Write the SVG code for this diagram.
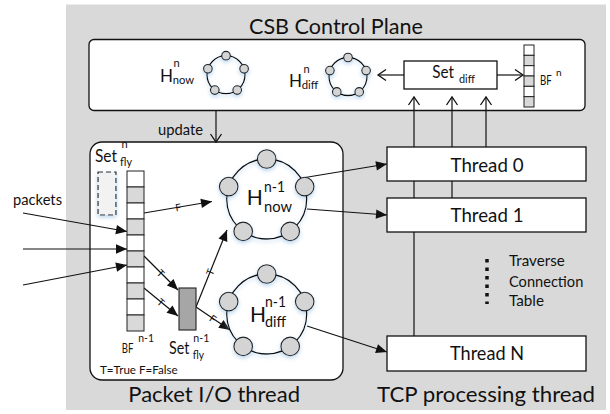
<svg xmlns="http://www.w3.org/2000/svg" width="610" height="414" viewBox="0 0 610 414">
<style>
text{font-family:Lato,"Liberation Sans",sans-serif;fill:#111}
.box{fill:#fff;stroke:#111;stroke-width:1.3}
.ln{fill:none;stroke:#111;stroke-width:1.2}
.ring{fill:none;stroke:#111;stroke-width:1.3}
.dot{fill:#d4d4d4;stroke:#222;stroke-width:1.1}
.cw{fill:#fff;stroke:#222;stroke-width:1}
.cg{fill:#d9d9d9;stroke:#222;stroke-width:1}
.tf{font-size:10px;text-anchor:middle;dominant-baseline:central}
</style>
<defs>
<marker id="open" markerUnits="userSpaceOnUse" viewBox="-10 -7 12 14" markerWidth="12" markerHeight="14" refX="0" refY="0" orient="auto">
<path d="M-8,-5.5 L0,0 L-8,5.5" fill="none" stroke="#111" stroke-width="1.3"/>
</marker>
<marker id="fill" markerUnits="userSpaceOnUse" viewBox="-12 -6 13 12" markerWidth="13" markerHeight="12" refX="0" refY="0" orient="auto">
<path d="M-11,-4.7 L0,0 L-11,4.7 Z" fill="#111"/>
</marker>
<filter id="glow" x="-30%" y="-30%" width="160%" height="170%">
<feGaussianBlur in="SourceAlpha" stdDeviation="2"/>
<feOffset dy="2" result="b"/>
<feFlood flood-color="#9cc3e6" flood-opacity="0.7"/>
<feComposite in2="b" operator="in"/>
<feMerge><feMergeNode/><feMergeNode in="SourceGraphic"/></feMerge>
</filter>
</defs>

<rect id="bg" x="66" y="4.5" width="540" height="405.5" fill="#d9d9d9"/>
<text x="336" y="34" font-size="22" text-anchor="middle" textLength="174" lengthAdjust="spacingAndGlyphs">CSB Control Plane</text>
<text x="128.3" y="401.5" font-size="22" textLength="171.7" lengthAdjust="spacingAndGlyphs">Packet I/O thread</text>
<text x="377" y="402" font-size="22" textLength="218" lengthAdjust="spacingAndGlyphs">TCP processing thread</text>

<g id="control-plane">
<rect class="box" x="89" y="39.5" width="496" height="71" rx="5"/>
</g>
<g id="packet-io">
<rect class="box" x="90" y="142" width="253" height="238" rx="12"/>
<text x="100" y="374.3" font-size="11.5" textLength="77.7" lengthAdjust="spacingAndGlyphs">T=True  F=False</text>
</g>

<g id="connectors">
<line class="ln" x1="216" y1="110.5" x2="216" y2="142" marker-end="url(#open)"/>
<text x="158" y="135" font-size="15" textLength="45" lengthAdjust="spacingAndGlyphs">update</text>
<line class="ln" x1="404" y1="75" x2="378" y2="75" marker-end="url(#open)"/>
<line class="ln" x1="497" y1="75" x2="523" y2="75" marker-end="url(#open)"/>
<line class="ln" x1="414" y1="336" x2="414" y2="97" marker-end="url(#open)"/>
<line class="ln" x1="452" y1="198" x2="452" y2="97" marker-end="url(#open)"/>
<line class="ln" x1="486" y1="147" x2="486" y2="97" marker-end="url(#open)"/>
<line class="ln" x1="23" y1="213" x2="127" y2="231.5" marker-end="url(#fill)"/>
<line class="ln" x1="23" y1="249" x2="127" y2="249" marker-end="url(#fill)"/>
<line class="ln" x1="23" y1="285" x2="127" y2="265" marker-end="url(#fill)"/>
<line class="ln" x1="144" y1="213" x2="212" y2="201.5" marker-end="url(#fill)"/>
<line class="ln" x1="144" y1="256" x2="178" y2="290" marker-end="url(#fill)"/>
<line class="ln" x1="144" y1="288" x2="178" y2="316" marker-end="url(#fill)"/>
<line class="ln" x1="196" y1="307" x2="227" y2="230" marker-end="url(#fill)"/>
<line class="ln" x1="196" y1="307" x2="230" y2="330" marker-end="url(#fill)"/>
<line class="ln" x1="305" y1="177.5" x2="387" y2="164" marker-end="url(#fill)"/>
<line class="ln" x1="307" y1="209" x2="387" y2="215" marker-end="url(#fill)"/>
<line class="ln" x1="307" y1="326" x2="387" y2="352" marker-end="url(#fill)"/>
<text class="tf" transform="translate(178,207.2) rotate(-9.6)">F</text>
<text class="tf" transform="translate(161,273) rotate(45)">T</text>
<text class="tf" transform="translate(161,302) rotate(39.5)">T</text>
<text class="tf" transform="translate(210,272) rotate(-68.1)">T</text>
<text class="tf" transform="translate(213,318.5) rotate(34.1)">F</text>
<text x="13" y="205" font-size="15.5" textLength="49" lengthAdjust="spacingAndGlyphs">packets</text>
</g>

<g id="h-now-n">
<g filter="url(#glow)">
<circle class="ring" cx="226" cy="74.7" r="19"/>
<circle class="dot" cx="226" cy="55.7" r="4.3"/>
<circle class="dot" cx="207.9" cy="68.8" r="4.3"/>
<circle class="dot" cx="244.1" cy="68.8" r="4.3"/>
<circle class="dot" cx="214.8" cy="90.1" r="4.3"/>
<circle class="dot" cx="237.2" cy="90.1" r="4.3"/>
</g>
<text x="160" y="82" font-size="17">H</text>
<text x="173.5" y="67" font-size="11">n</text>
<text x="172.7" y="84" font-size="12" textLength="21.3" lengthAdjust="spacingAndGlyphs">now</text>
</g>

<g id="h-diff-n">
<g filter="url(#glow)">
<circle class="ring" cx="348" cy="76.5" r="19"/>
<circle class="dot" cx="348" cy="57.5" r="4.3"/>
<circle class="dot" cx="329.9" cy="70.6" r="4.3"/>
<circle class="dot" cx="366.1" cy="70.6" r="4.3"/>
<circle class="dot" cx="336.8" cy="91.9" r="4.3"/>
<circle class="dot" cx="359.2" cy="91.9" r="4.3"/>
</g>
<text x="289" y="87" font-size="17">H</text>
<text x="303.5" y="72.5" font-size="11">n</text>
<text x="301.7" y="88.5" font-size="12" textLength="16.6" lengthAdjust="spacingAndGlyphs">diff</text>
</g>

<g id="set-diff">
<rect class="box" x="404" y="61" width="93" height="28"/>
<text x="432.3" y="78.3" font-size="17" textLength="21.7" lengthAdjust="spacingAndGlyphs">Set</text>
<text x="459" y="83.3" font-size="12" textLength="16" lengthAdjust="spacingAndGlyphs">diff</text>
</g>

<g id="bf-n">
<rect class="cw" x="524" y="45" width="10" height="10.33"/>
<rect class="cg" x="524" y="55.33" width="10" height="10.33"/>
<rect class="cw" x="524" y="65.67" width="10" height="10.33"/>
<rect class="cg" x="524" y="76" width="10" height="10.33"/>
<rect class="cw" x="524" y="86.33" width="10" height="10.33"/>
<rect class="cg" x="524" y="96.67" width="10" height="10.33"/>
<text x="540" y="85" font-size="13" textLength="11.7" lengthAdjust="spacingAndGlyphs">BF</text>
<text x="556" y="75.7" font-size="10">n</text>
</g>

<g id="set-fly-n">
<rect x="98" y="172" width="18" height="43" fill="#f2f2f2" stroke="#222" stroke-width="1.2" stroke-dasharray="5,3" filter="url(#glow)"/>
<text x="95" y="162.3" font-size="16.5" textLength="22" lengthAdjust="spacingAndGlyphs">Set</text>
<text x="121.5" y="148.3" font-size="11">n</text>
<text x="120" y="166" font-size="12" textLength="12" lengthAdjust="spacingAndGlyphs">fly</text>
</g>

<g id="bf-n-1">
<rect class="cw" x="127" y="171" width="17" height="16"/>
<rect class="cg" x="127" y="187" width="17" height="16"/>
<rect class="cw" x="127" y="203" width="17" height="16"/>
<rect class="cg" x="127" y="219" width="17" height="16"/>
<rect class="cw" x="127" y="235" width="17" height="16"/>
<rect class="cg" x="127" y="251" width="17" height="16"/>
<rect class="cw" x="127" y="267" width="17" height="16"/>
<rect class="cg" x="127" y="283" width="17" height="16"/>
<rect class="cw" x="127" y="299" width="17" height="16"/>
<rect class="cg" x="127" y="315" width="17" height="16"/>
<text x="121.7" y="353.3" font-size="14" textLength="11.6" lengthAdjust="spacingAndGlyphs">BF</text>
<text x="138.3" y="341.7" font-size="12" textLength="15.7" lengthAdjust="spacingAndGlyphs">n-1</text>
</g>

<g id="set-fly-n-1">
<rect x="179" y="288" width="17" height="42" fill="#a6a6a6" stroke="#222" stroke-width="1.1"/>
<text x="169" y="354.3" font-size="16.5" textLength="20.3" lengthAdjust="spacingAndGlyphs">Set</text>
<text x="193.3" y="341.7" font-size="12" textLength="16" lengthAdjust="spacingAndGlyphs">n-1</text>
<text x="192.7" y="358.5" font-size="12" textLength="11.3" lengthAdjust="spacingAndGlyphs">fly</text>
</g>

<g id="h-now-n-1">
<g filter="url(#glow)">
<circle class="ring" cx="266.7" cy="199" r="40"/>
<circle class="dot" cx="266.7" cy="159" r="9.3"/>
<circle class="dot" cx="228.7" cy="186.6" r="9.3"/>
<circle class="dot" cx="304.7" cy="186.6" r="9.3"/>
<circle class="dot" cx="243.2" cy="231.4" r="9.3"/>
<circle class="dot" cx="290.2" cy="231.4" r="9.3"/>
</g>
<text x="246.7" y="205" font-size="21">H</text>
<text x="264" y="192" font-size="15" textLength="21" lengthAdjust="spacingAndGlyphs">n-1</text>
<text x="264" y="211.7" font-size="15" textLength="28" lengthAdjust="spacingAndGlyphs">now</text>
</g>

<g id="h-diff-n-1">
<g filter="url(#glow)">
<circle class="ring" cx="266.7" cy="314" r="40"/>
<circle class="dot" cx="266.7" cy="274" r="9.3"/>
<circle class="dot" cx="228.7" cy="301.6" r="9.3"/>
<circle class="dot" cx="304.7" cy="301.6" r="9.3"/>
<circle class="dot" cx="243.2" cy="346.4" r="9.3"/>
<circle class="dot" cx="290.2" cy="346.4" r="9.3"/>
</g>
<text x="250" y="321.7" font-size="21">H</text>
<text x="265" y="306.7" font-size="15" textLength="21" lengthAdjust="spacingAndGlyphs">n-1</text>
<text x="265" y="326.7" font-size="15" textLength="21" lengthAdjust="spacingAndGlyphs">diff</text>
</g>

<g id="thread-0">
<rect class="box" x="387" y="147" width="199" height="34"/>
<text x="487" y="171.5" font-size="19" text-anchor="middle" textLength="73" lengthAdjust="spacingAndGlyphs">Thread 0</text>
</g>
<g id="thread-1">
<rect class="box" x="387" y="198" width="199" height="34"/>
<text x="487" y="222.3" font-size="19" text-anchor="middle" textLength="73" lengthAdjust="spacingAndGlyphs">Thread 1</text>
</g>
<g id="thread-n">
<rect class="box" x="387" y="336" width="199" height="35"/>
<text x="487" y="360" font-size="19" text-anchor="middle" textLength="74" lengthAdjust="spacingAndGlyphs">Thread N</text>
</g>

<g id="traverse">
<line x1="487" y1="259" x2="487" y2="304" stroke="#111" stroke-width="3.5" stroke-dasharray="3.5,5"/>
<text x="509" y="266" font-size="15" textLength="55.7" lengthAdjust="spacingAndGlyphs">Traverse</text>
<text x="509" y="287" font-size="15" textLength="74.3" lengthAdjust="spacingAndGlyphs">Connection</text>
<text x="509" y="306" font-size="15" textLength="35" lengthAdjust="spacingAndGlyphs">Table</text>
</g>
</svg>
